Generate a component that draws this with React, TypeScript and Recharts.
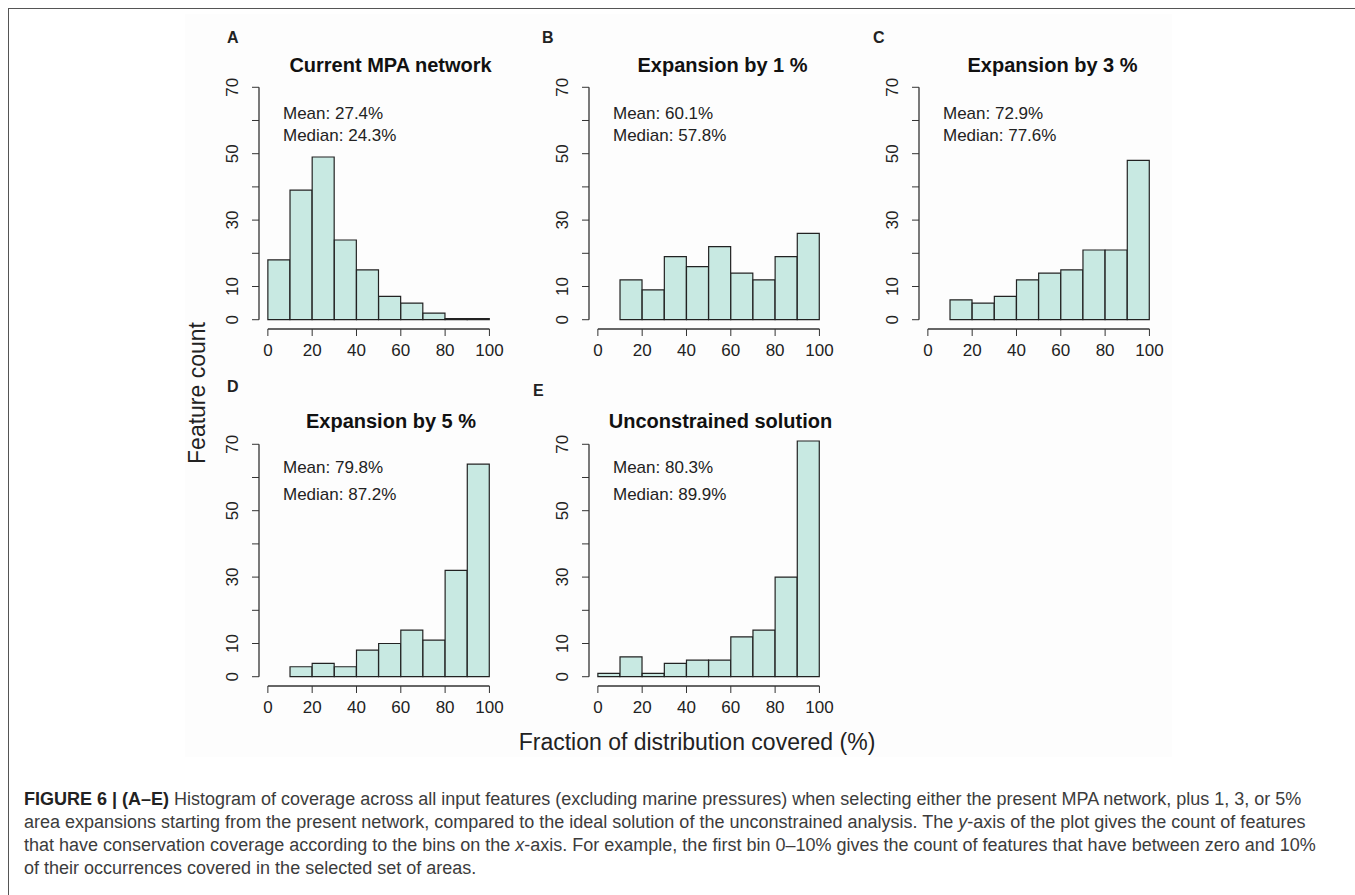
import React from "react"
import { Bar, BarChart, ReferenceLine, XAxis, YAxis } from "recharts"

// histogram bins (centre of each 10 % bin)
const binMids = [5, 15, 25, 35, 45, 55, 65, 75, 85, 95]

// feature counts per bin (null = bin not drawn)
const currentCounts = [18, 39, 49, 24, 15, 7, 5, 2, 0, 0]
const expand1Counts = [null, 12, 9, 19, 16, 22, 14, 12, 19, 26]
const expand3Counts = [null, 6, 5, 7, 12, 14, 15, 21, 21, 48]
const expand5Counts = [null, 3, 4, 3, 8, 10, 14, 11, 32, 64]
const unconstrainedCounts = [1, 6, 1, 4, 5, 5, 12, 14, 30, 71]

const xTicks = [0, 20, 40, 60, 80, 100]
const yTicks = [0, 10, 20, 30, 40, 50, 60, 70]
const yLabeled = [0, 10, 30, 50, 70]

// R pads the plot region by 4 % on each side
const X_DOMAIN: [number, number] = [-4, 104]
const Y_DOMAIN: [number, number] = [-2.8, 72.8]

const FONT = '"Liberation Sans", Arial, Helvetica, sans-serif'
const BAR_FILL = "#c8e9e2"
const INK = "#222"

const captionLines = [
  "area expansions starting from the present network, compared to the ideal solution of the unconstrained analysis. The ",
  "that have conservation coverage according to the bins on the ",
]

type PanelProps = {
  letter: string
  title: string
  mean: string
  median: string
  counts: (number | null)[]
  axisX: number
  plotTop: number
  letterX: number
  letterY: number
  titleX: number
  titleY: number
  meanY: number
  medianY: number
}

function Txt({ x, y, size, bold, center, color, children }: any) {
  return (
    <div
      style={{
        position: "absolute",
        left: x,
        top: y - size / 2,
        fontSize: size,
        lineHeight: `${size}px`,
        fontWeight: bold ? "bold" : "normal",
        fontFamily: FONT,
        color: color || INK,
        whiteSpace: "nowrap",
        transform: center ? "translateX(-50%)" : undefined,
      }}
    >
      {children}
    </div>
  )
}

function YTick(props: any) {
  const { x, y, payload } = props
  if (!yLabeled.includes(payload.value)) return null
  return (
    <text
      x={x}
      y={y}
      transform={`rotate(-90 ${x} ${y})`}
      textAnchor="middle"
      fontSize={17}
      fontFamily={FONT}
      fill={INK}
    >
      {payload.value}
    </text>
  )
}

function Panel(p: PanelProps) {
  const data = binMids
    .map((mid, i) => ({ mid, count: p.counts[i] }))
    .filter((d) => d.count !== null)

  return (
    <>
      <Txt x={p.letterX} y={p.letterY} size={16} bold>
        {p.letter}
      </Txt>
      <Txt x={p.titleX} y={p.titleY} size={20} bold center color="#111">
        {p.title}
      </Txt>
      <Txt x={p.axisX + 24} y={p.meanY} size={17}>
        {p.mean}
      </Txt>
      <Txt x={p.axisX + 24} y={p.medianY} size={17}>
        {p.median}
      </Txt>
      <div style={{ position: "absolute", left: p.axisX - 70, top: p.plotTop - 60 }}>
        <BarChart
          width={330}
          height={360}
          data={data}
          margin={{ top: 60, right: 20.7, left: 25, bottom: 9 }}
          barCategoryGap={0}
          barGap={0}
        >
          <XAxis
            dataKey="mid"
            type="number"
            domain={X_DOMAIN}
            ticks={xTicks}
            interval={0}
            allowDataOverflow
            axisLine={false}
            tickSize={7}
            tickMargin={8}
            height={40}
            stroke="#333"
            tick={{ fontSize: 17, fill: INK, fontFamily: FONT }}
          />
          <YAxis
            type="number"
            domain={Y_DOMAIN}
            ticks={yTicks}
            interval={0}
            allowDataOverflow
            axisLine={false}
            tickSize={7}
            tickMargin={14}
            width={45}
            stroke="#333"
            tick={<YTick />}
          />
          <ReferenceLine
            segment={[
              { x: X_DOMAIN[0], y: yTicks[0] },
              { x: X_DOMAIN[0], y: yTicks[yTicks.length - 1] },
            ]}
            stroke="#333"
            strokeWidth={1.3}
            ifOverflow="visible"
          />
          <ReferenceLine
            segment={[
              { x: xTicks[0], y: Y_DOMAIN[0] },
              { x: xTicks[xTicks.length - 1], y: Y_DOMAIN[0] },
            ]}
            stroke="#333"
            strokeWidth={1.3}
            ifOverflow="visible"
          />
          <Bar
            dataKey="count"
            fill={BAR_FILL}
            stroke={INK}
            strokeWidth={1.2}
            minPointSize={(v: number) => (v === 0 ? 1 : 0)}
            isAnimationActive={false}
          />
        </BarChart>
      </div>
    </>
  )
}

export default function App() {
  const row1 = 78.4
  const row2 = 434.7
  return (
    <div style={{ position: "absolute", left: 0, top: 0, width: 1355, height: 895, background: "#fff", overflow: "hidden" }}>
      <div
        style={{
          position: "absolute",
          left: 8,
          top: 8,
          width: 1400,
          height: 900,
          borderLeft: "1px solid #555",
          borderTop: "1px solid #555",
        }}
      />
      <div style={{ position: "absolute", left: 185, top: 14, width: 987, height: 743, background: "#fdfdfd" }} />

      <Panel
        letter="A"
        title="Current MPA network"
        mean="Mean: 27.4%"
        median="Median: 24.3%"
        counts={currentCounts}
        axisX={259}
        plotTop={row1}
        letterX={227}
        letterY={38}
        titleX={390.5}
        titleY={65}
        meanY={113}
        medianY={135.7}
      />
      <Panel
        letter="B"
        title="Expansion by 1 %"
        mean="Mean: 60.1%"
        median="Median: 57.8%"
        counts={expand1Counts}
        axisX={589}
        plotTop={row1}
        letterX={542}
        letterY={38}
        titleX={722.5}
        titleY={65}
        meanY={113}
        medianY={135.7}
      />
      <Panel
        letter="C"
        title="Expansion by 3 %"
        mean="Mean: 72.9%"
        median="Median: 77.6%"
        counts={expand3Counts}
        axisX={919}
        plotTop={row1}
        letterX={873}
        letterY={38}
        titleX={1052.5}
        titleY={65}
        meanY={113}
        medianY={135.7}
      />
      <Panel
        letter="D"
        title="Expansion by 5 %"
        mean="Mean: 79.8%"
        median="Median: 87.2%"
        counts={expand5Counts}
        axisX={259}
        plotTop={row2}
        letterX={227}
        letterY={387}
        titleX={391}
        titleY={420.7}
        meanY={467.7}
        medianY={494.3}
      />
      <Panel
        letter="E"
        title="Unconstrained solution"
        mean="Mean: 80.3%"
        median="Median: 89.9%"
        counts={unconstrainedCounts}
        axisX={589}
        plotTop={row2}
        letterX={533}
        letterY={390.7}
        titleX={720.5}
        titleY={420.7}
        meanY={467.7}
        medianY={494.3}
      />

      <div
        style={{
          position: "absolute",
          left: 197,
          top: 393,
          transform: "translate(-50%, -50%) rotate(-90deg)",
          fontSize: 23,
          lineHeight: "23px",
          fontFamily: FONT,
          color: INK,
          whiteSpace: "nowrap",
        }}
      >
        Feature count
      </div>
      <Txt x={697} y={742} size={23} center>
        Fraction of distribution covered (%)
      </Txt>

      <div
        style={{
          position: "absolute",
          left: 24,
          top: 788,
          fontSize: 18,
          lineHeight: "23px",
          fontFamily: FONT,
          color: "#3c3c3c",
          whiteSpace: "nowrap",
        }}
      >
        <div>
          <b style={{ color: "#222" }}>FIGURE 6 | (A–E)</b> Histogram of coverage across all input features (excluding
          marine pressures) when selecting either the present MPA network, plus 1, 3, or 5%
        </div>
        <div>
          {captionLines[0]}
          <i>y</i>-axis of the plot gives the count of features
        </div>
        <div>
          {captionLines[1]}
          <i>x</i>-axis. For example, the first bin 0–10% gives the count of features that have between zero and 10%
        </div>
        <div>of their occurrences covered in the selected set of areas.</div>
      </div>
    </div>
  )
}
